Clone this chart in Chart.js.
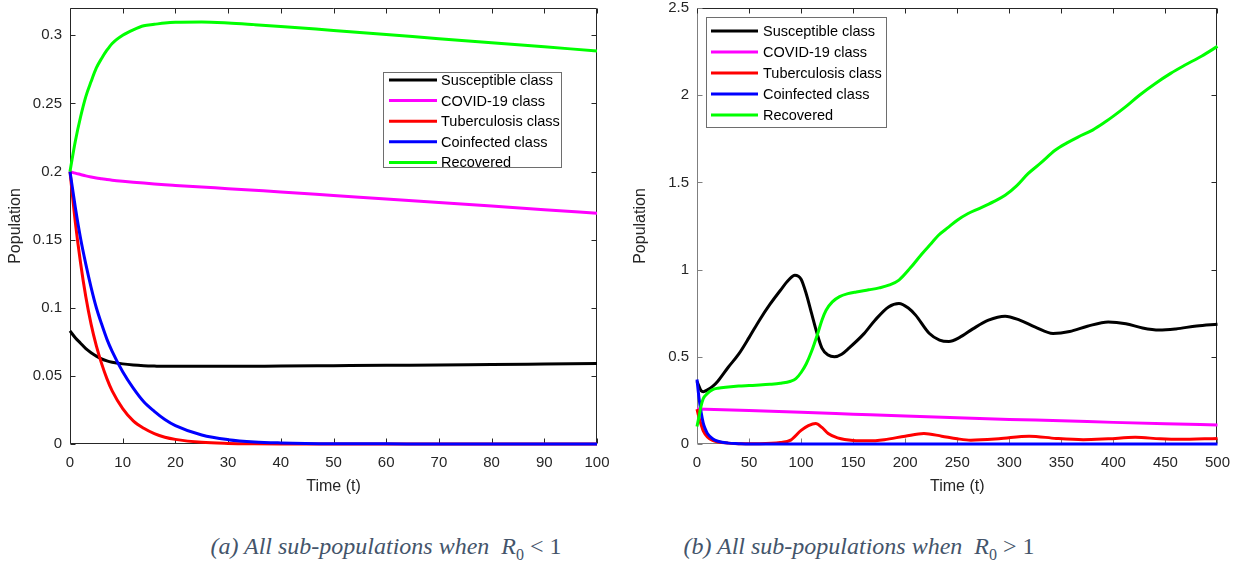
<!DOCTYPE html>
<html lang="en">
<head>
    <meta charset="UTF-8">
    <title>All sub-populations</title>
    <script src="https://cdn.jsdelivr.net/npm/chart.js"></script>
    <style>
        body { margin: 0; background: #fff; width: 1240px; height: 562px; position: relative; overflow: hidden; }
        .panel { position: absolute; top: 0; }
        .caption { position: absolute; top: 531px; width: 560px; text-align: center; font-family: 'Liberation Serif', serif; font-style: italic; font-size: 24px; color: #44546a; line-height: 30px; }
        .caption .m { font-style: normal; }
        .caption sub { font-style: normal; font-size: 16px; }
    </style>
</head>
<body>
    <div class="panel" style="left:0"><canvas id="chartA" width="620" height="500"></canvas></div>
    <div class="panel" style="left:625px"><canvas id="chartB" width="615" height="500"></canvas></div>
    <div class="caption" style="left:106px">(a) All sub-populations when &nbsp;<i>R</i><sub>0</sub><span class="m"> &lt; 1</span></div>
    <div class="caption" style="left:579px">(b) All sub-populations when &nbsp;<i>R</i><sub>0</sub><span class="m"> &gt; 1</span></div>

    <script>
        // series names and colours
        const seriesNames = ['Susceptible class', 'COVID-19 class', 'Tuberculosis class', 'Coinfected class', 'Recovered'];
        const seriesColors = ['#000000', '#ff00ff', '#ff0000', '#0000ff', '#00ff00'];

        // (a) R0 < 1, time 0..100
        const timeA = [0, 1, 2, 3, 4, 5, 6, 7, 8, 10, 12, 14, 16, 18, 20, 25, 30, 35, 40, 50, 60, 70, 80, 90, 100];
        const susceptibleA = [0.083, 0.078, 0.074, 0.070, 0.067, 0.0645, 0.0625, 0.061, 0.060, 0.0588, 0.058, 0.0575, 0.0572, 0.057, 0.057, 0.057, 0.057, 0.0571, 0.0572, 0.0575, 0.0578, 0.058, 0.0584, 0.0587, 0.059];
        const covidA = [0.200, 0.1988, 0.1978, 0.1968, 0.196, 0.1953, 0.1947, 0.1941, 0.1936, 0.1928, 0.1921, 0.1915, 0.1909, 0.1903, 0.1898, 0.1886, 0.1874, 0.1862, 0.185, 0.1824, 0.1798, 0.1772, 0.1746, 0.172, 0.1693];
        const tuberculosisA = [0.200, 0.163, 0.133, 0.108, 0.088, 0.072, 0.059, 0.048, 0.039, 0.026, 0.017, 0.0115, 0.0076, 0.005, 0.0034, 0.0012, 0.0004, 0.0001, 0, 0, 0, 0, 0, 0, 0];
        const coinfectedA = [0.200, 0.174, 0.151, 0.132, 0.115, 0.100, 0.088, 0.077, 0.068, 0.053, 0.041, 0.031, 0.024, 0.018, 0.0135, 0.0066, 0.0032, 0.0015, 0.0008, 0.0002, 0.0001, 0, 0, 0, 0];
        const recoveredA = [0.200, 0.222, 0.240, 0.255, 0.266, 0.276, 0.283, 0.289, 0.294, 0.300, 0.304, 0.307, 0.308, 0.309, 0.3095, 0.3097, 0.309, 0.3078, 0.3065, 0.3035, 0.3005, 0.2975, 0.2945, 0.2915, 0.2885];
        const xTicksA = [0, 10, 20, 30, 40, 50, 60, 70, 80, 90, 100];
        const yTicksA = [0, 0.05, 0.1, 0.15, 0.2, 0.25, 0.3];

        // (b) R0 > 1, time 0..500
        const susTimeB = [0, 2, 4, 6, 10, 15, 20, 30, 40, 50, 60, 70, 80, 88, 94, 100, 105, 110, 115, 120, 126, 132, 139, 146, 160, 171, 184, 194, 203, 210, 223, 233, 242, 252, 265, 280, 296, 310, 325, 342, 358, 375, 395, 412, 428, 444, 460, 480, 500];
        const susceptibleB = [0.36, 0.33, 0.305, 0.30, 0.31, 0.33, 0.36, 0.44, 0.515, 0.61, 0.71, 0.80, 0.88, 0.94, 0.968, 0.945, 0.86, 0.75, 0.64, 0.55, 0.51, 0.50, 0.515, 0.55, 0.63, 0.71, 0.786, 0.806, 0.78, 0.739, 0.635, 0.596, 0.588, 0.61, 0.66, 0.71, 0.733, 0.71, 0.67, 0.634, 0.645, 0.675, 0.70, 0.69, 0.665, 0.653, 0.66, 0.677, 0.687];
        const covidTimeB = [0, 50, 100, 150, 200, 250, 300, 350, 400, 450, 500];
        const covidB = [0.200, 0.192, 0.182, 0.171, 0.160, 0.150, 0.141, 0.133, 0.124, 0.116, 0.109];
        const tbTimeB = [0, 2, 4, 6, 10, 15, 20, 30, 40, 60, 80, 90, 100, 107, 114, 120, 126, 135, 150, 165, 180, 200, 218, 235, 250, 263, 290, 319, 345, 371, 395, 421, 445, 463, 500];
        const tuberculosisB = [0.2, 0.15, 0.11, 0.075, 0.04, 0.02, 0.012, 0.005, 0.002, 0.002, 0.008, 0.022, 0.078, 0.105, 0.118, 0.095, 0.06, 0.035, 0.02, 0.018, 0.025, 0.045, 0.06, 0.045, 0.03, 0.022, 0.03, 0.045, 0.032, 0.025, 0.03, 0.038, 0.03, 0.027, 0.032];
        const coTimeB = [0, 2, 4, 6, 8, 10, 15, 20, 30, 40, 50, 500];
        const coinfectedB = [0.37, 0.26, 0.18, 0.12, 0.085, 0.06, 0.03, 0.016, 0.005, 0.002, 0, 0];
        const recTimeB = [0, 2, 4, 6, 10, 15, 20, 30, 40, 50, 60, 70, 80, 90, 95, 100, 105, 110, 116, 120, 124, 130, 137, 145, 153, 165, 175, 185, 194, 205, 216, 225, 232, 242, 250, 260, 271, 285, 296, 307, 318, 330, 344, 355, 366, 380, 392, 400, 411, 425, 440, 455, 468, 485, 500];
        const recoveredB = [0.10, 0.16, 0.22, 0.26, 0.29, 0.312, 0.32, 0.327, 0.332, 0.335, 0.338, 0.342, 0.348, 0.36, 0.375, 0.41, 0.46, 0.53, 0.634, 0.71, 0.767, 0.815, 0.845, 0.862, 0.872, 0.884, 0.895, 0.912, 0.94, 1.01, 1.09, 1.15, 1.197, 1.245, 1.283, 1.32, 1.35, 1.39, 1.426, 1.48, 1.55, 1.61, 1.684, 1.725, 1.76, 1.80, 1.846, 1.88, 1.93, 2.0, 2.066, 2.125, 2.17, 2.225, 2.28];
        const xTicksB = [0, 50, 100, 150, 200, 250, 300, 350, 400, 450, 500];
        const yTicksB = [0, 0.5, 1, 1.5, 2, 2.5];

        const axisColor = '#262626';
        const fontFamily = "'Liberation Sans', Arial, sans-serif";

        function zip(ts, vs) {
            return ts.map((t, i) => ({ x: t, y: vs[i] }));
        }

        function makeDatasets(list) {
            // later series drawn on top (MATLAB plot order)
            return list.map((pts, i) => ({
                label: seriesNames[i],
                data: pts,
                borderColor: seriesColors[i],
                borderWidth: 3,
                pointRadius: 0,
                cubicInterpolationMode: 'monotone',
                fill: false,
                clip: 6,
                order: list.length - i
            }));
        }

        // MATLAB style box with inward ticks on all four sides
        const boxPlugin = {
            id: 'box',
            beforeDatasetsDraw(chart, args, opts) {
                const { ctx, chartArea: a, scales: { x, y } } = chart;
                const L = Math.round(a.left) + 0.5, R = Math.round(a.right) - 0.5;
                const T = Math.round(a.top) + 0.5, B = Math.round(a.bottom) - 0.5;
                const len = 5;
                ctx.save();
                ctx.lineWidth = 1;
                const seg = (c, x1, y1, x2, y2) => {
                    ctx.strokeStyle = c;
                    ctx.beginPath();
                    ctx.moveTo(x1, y1);
                    ctx.lineTo(x2, y2);
                    ctx.stroke();
                };
                const leftC = opts.leftColor || axisColor;
                const bottomC = opts.bottomColor || axisColor;
                seg(axisColor, L, T, R, T);
                seg(axisColor, R, T, R, B);
                seg(bottomC, L, B, R, B);
                seg(leftC, L, T, L, B);
                x.ticks.forEach(t => {
                    const px = Math.round(x.getPixelForValue(t.value)) + 0.5;
                    seg(bottomC, px, B, px, B - len);
                    seg(axisColor, px, T, px, T + len);
                });
                y.ticks.forEach(t => {
                    const py = Math.round(y.getPixelForValue(t.value)) + 0.5;
                    seg(leftC, L, py, L + len, py);
                    seg(axisColor, R, py, R - len, py);
                });
                ctx.restore();
            }
        };

        // legend box placed inside the axes
        const boxLegend = {
            id: 'boxLegend',
            afterDraw(chart, args, opts) {
                const { ctx } = chart;
                ctx.save();
                ctx.fillStyle = '#fff';
                ctx.fillRect(opts.x, opts.y, opts.w, opts.h);
                ctx.strokeStyle = '#6e6e6e';
                ctx.lineWidth = 1;
                ctx.strokeRect(opts.x + 0.5, opts.y + 0.5, opts.w, opts.h);
                ctx.font = '14.5px ' + fontFamily;
                ctx.textBaseline = 'middle';
                chart.data.datasets.forEach((ds, i) => {
                    const yy = opts.row0 + i * opts.rowGap;
                    ctx.strokeStyle = ds.borderColor;
                    ctx.lineWidth = 3;
                    ctx.beginPath();
                    ctx.moveTo(opts.lineX0, yy);
                    ctx.lineTo(opts.lineX1, yy);
                    ctx.stroke();
                    ctx.fillStyle = '#000';
                    ctx.fillText(ds.label, opts.textX, yy + 1);
                });
                ctx.restore();
            }
        };

        function axisOptions(xMax, yMax, xTicks, yTicks, yWidth) {
            return {
                x: {
                    type: 'linear', min: 0, max: xMax,
                    afterBuildTicks: s => { s.ticks = xTicks.map(v => ({ value: v })); },
                    afterFit: s => { s.height = 56; },
                    ticks: { color: axisColor, font: { family: fontFamily, size: 15 }, padding: 10, maxRotation: 0, autoSkip: false },
                    grid: { display: false, drawTicks: false },
                    border: { display: false },
                    title: { display: true, text: 'Time (t)', color: axisColor, font: { family: fontFamily, size: 16 }, padding: { top: 2, bottom: 4 } }
                },
                y: {
                    type: 'linear', min: 0, max: yMax,
                    afterBuildTicks: s => { s.ticks = yTicks.map(v => ({ value: v })); },
                    // fixed width, and keep the plot top close to the canvas top
                    afterFit: s => { s.width = yWidth; s.paddingTop = 8; s.paddingBottom = 0; },
                    ticks: { color: axisColor, font: { family: fontFamily, size: 15, lineHeight: 1 }, padding: 8, callback: v => String(v) },
                    grid: { display: false, drawTicks: false },
                    border: { display: false },
                    title: { display: true, text: 'Population', color: axisColor, font: { family: fontFamily, size: 16 }, padding: { top: 6, bottom: 4 } }
                }
            };
        }

        new Chart(document.getElementById('chartA'), {
            type: 'line',
            data: {
                datasets: makeDatasets([
                    zip(timeA, susceptibleA),
                    zip(timeA, covidA),
                    zip(timeA, tuberculosisA),
                    zip(timeA, coinfectedA),
                    zip(timeA, recoveredA)
                ])
            },
            options: {
                responsive: false,
                animation: false,
                devicePixelRatio: 1,
                layout: { padding: { left: 0, right: 23, top: 0, bottom: 0 } },
                scales: axisOptions(100, 0.32, xTicksA, yTicksA, 70),
                plugins: {
                    legend: { display: false },
                    tooltip: { enabled: false },
                    box: {},
                    boxLegend: { x: 383, y: 72, w: 178, h: 95, row0: 80, rowGap: 20.6, lineX0: 389, lineX1: 437, textX: 441 }
                }
            },
            plugins: [boxPlugin, boxLegend]
        });

        new Chart(document.getElementById('chartB'), {
            type: 'line',
            data: {
                datasets: makeDatasets([
                    zip(susTimeB, susceptibleB),
                    zip(covidTimeB, covidB),
                    zip(tbTimeB, tuberculosisB),
                    zip(coTimeB, coinfectedB),
                    zip(recTimeB, recoveredB)
                ])
            },
            options: {
                responsive: false,
                animation: false,
                devicePixelRatio: 1,
                layout: { padding: { left: 0, right: 20, top: 0, bottom: 0 } },
                scales: axisOptions(500, 2.5, xTicksB, yTicksB, 72),
                plugins: {
                    legend: { display: false },
                    tooltip: { enabled: false },
                    box: { leftColor: '#7f7f7f', bottomColor: '#7f7f7f' },
                    boxLegend: { x: 81, y: 17, w: 180, h: 110, row0: 31, rowGap: 21, lineX0: 86, lineX1: 133, textX: 138 }
                }
            },
            plugins: [boxPlugin, boxLegend]
        });
    </script>
</body>
</html>
